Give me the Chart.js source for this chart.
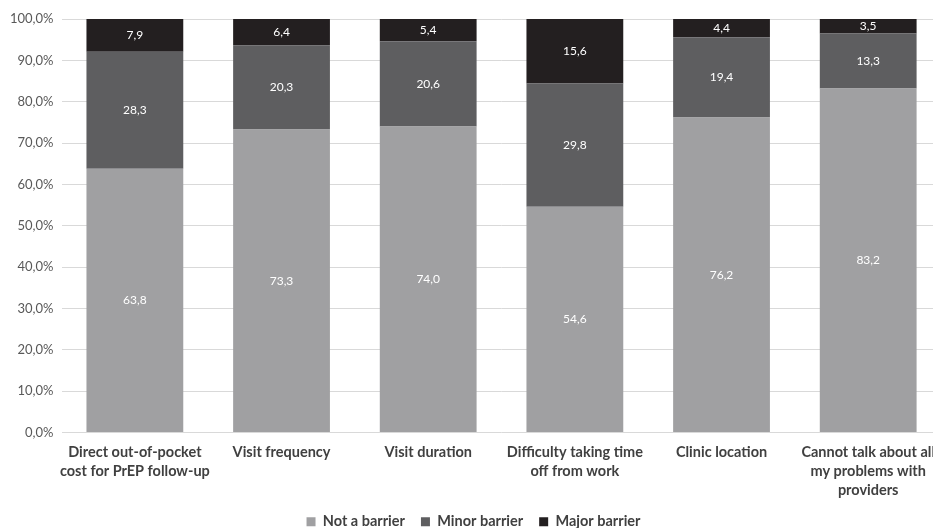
<!DOCTYPE html>
<html>
<head>
<meta charset="utf-8">
<script src="https://cdn.jsdelivr.net/npm/chart.js@4"></script>
<style>
	html, body { margin: 0; padding: 0; background: #fff; overflow: hidden; }
	#wrap { width: 945px; height: 528px; position: relative; overflow: hidden; }
</style>
</head>
<body>
<div id="wrap"><canvas id="barrierChart" width="945" height="539"></canvas></div>
<script>
// Categories and stacked shares (%)
const categories = [
	['Direct out-of-pocket', 'cost for PrEP follow-up'],
	'Visit frequency',
	'Visit duration',
	['Difficulty taking time', 'off from work'],
	'Clinic location',
	['Cannot talk about all', 'my problems with', 'providers']
];
const notBarrier = [63.8, 73.3, 74.0, 54.6, 76.2, 83.2];
const minorBarrier = [28.3, 20.3, 20.6, 29.8, 19.4, 13.3];
const majorBarrier = [7.9, 6.4, 5.4, 15.6, 4.4, 3.5];
const yTicks = [0, 10, 20, 30, 40, 50, 60, 70, 80, 90, 100];

const FONT = 'Lato, "Open Sans", sans-serif';

function comma(n, digits) {
	return n.toFixed(digits).replace('.', ',');
}

// White value labels centred in each segment
const segmentLabels = {
	id: 'segmentLabels',
	afterDatasetsDraw(chart) {
		const ctx = chart.ctx;
		ctx.save();
		ctx.fillStyle = '#ffffff';
		ctx.font = '12px ' + FONT;
		ctx.textAlign = 'center';
		ctx.textBaseline = 'middle';
		chart.data.datasets.forEach((ds, i) => {
			chart.getDatasetMeta(i).data.forEach((bar, j) => {
				const y = (bar.y + bar.base) / 2;
				ctx.fillText(comma(ds.data[j], 1), bar.x, y);
			});
		});
		ctx.restore();
	}
};

new Chart(document.getElementById('barrierChart'), {
	type: 'bar',
	data: {
		labels: categories,
		datasets: [
			{ label: 'Not a barrier', data: notBarrier, backgroundColor: '#a0a0a2' },
			{ label: 'Minor barrier', data: minorBarrier, backgroundColor: '#5e5e60' },
			{ label: 'Major barrier', data: majorBarrier, backgroundColor: '#231f20' }
		]
	},
	options: {
		responsive: false,
		animation: false,
		layout: { padding: { top: 19, left: 2, right: 0, bottom: 0 } },
		datasets: {
			bar: { barPercentage: 0.66, categoryPercentage: 1.0 }
		},
		plugins: {
			legend: {
				position: 'bottom',
				labels: {
					color: '#404040',
					font: { family: FONT, size: 14.5, weight: 'bold' },
					boxWidth: 9,
					boxHeight: 9,
					padding: 16
				}
			},
			tooltip: { enabled: false }
		},
		scales: {
			x: {
				stacked: true,
				grid: { display: false, drawTicks: false },
				border: { display: false },
				afterFit(axis) {
					axis.height = 66;
				},
				ticks: {
					color: '#404040',
					font: { family: FONT, size: 14.5, weight: 'bold', lineHeight: 1.31 },
					maxRotation: 0,
					autoSkip: false,
					padding: 10
				}
			},
			y: {
				stacked: true,
				min: 0,
				max: 100,
				afterBuildTicks(axis) {
					axis.ticks = yTicks.map(v => ({ value: v }));
				},
				grid: { color: '#d9d9d9', drawTicks: false },
				border: { display: false },
				ticks: {
					color: '#595959',
					font: { family: FONT, size: 13 },
					padding: 8,
					callback: v => comma(v, 1) + '%'
				}
			}
		}
	},
	plugins: [segmentLabels]
});
</script>
</body>
</html>
